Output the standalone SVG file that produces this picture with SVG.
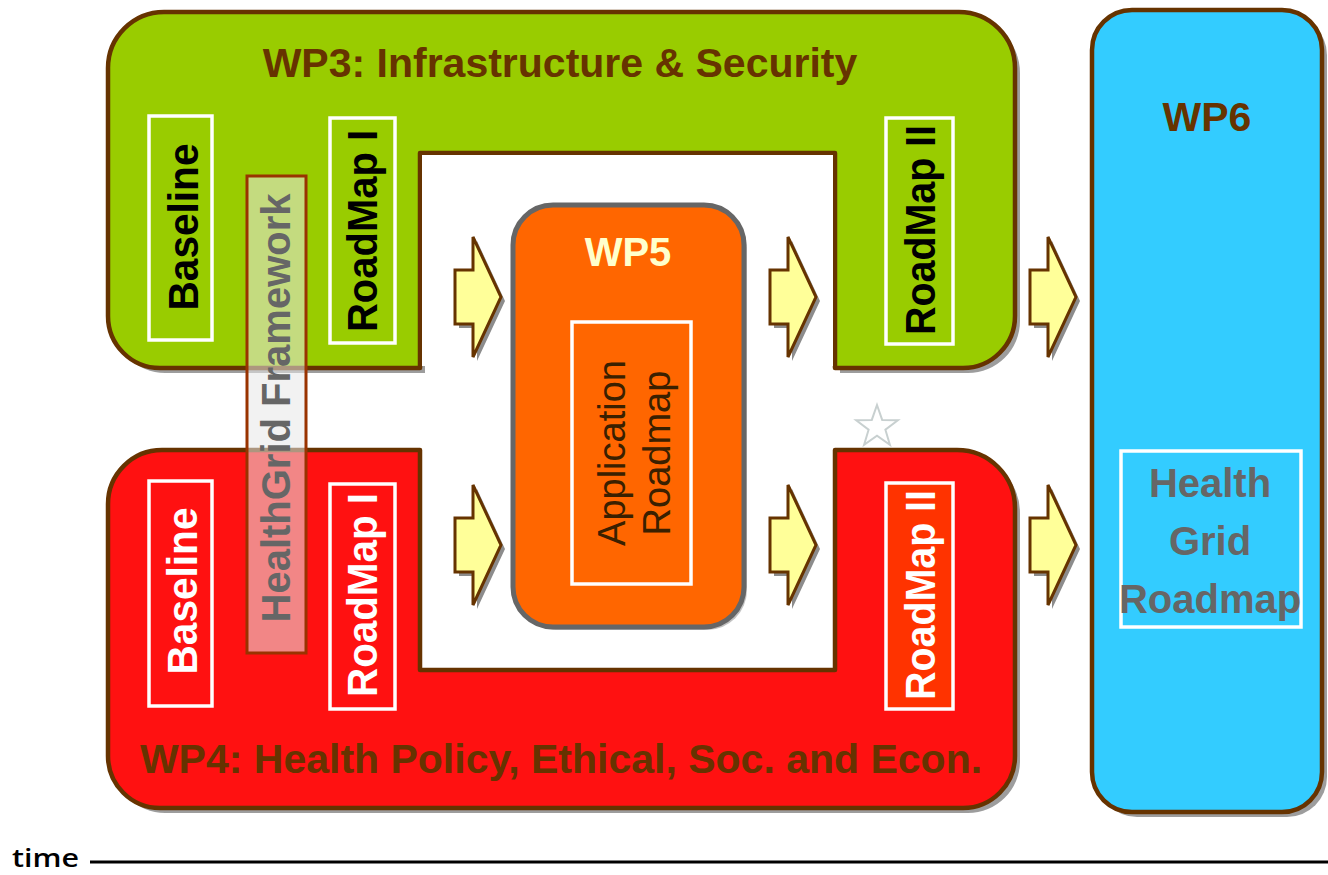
<svg xmlns="http://www.w3.org/2000/svg" xmlns:xlink="http://www.w3.org/1999/xlink" width="1328" height="875" viewBox="0 0 1328 875">
<style>
.wp{stroke:#663300;stroke-width:4.5;stroke-linejoin:round}
.shadow{fill:#8c8c8c;opacity:0.85}
.box{fill:none;stroke:#ffffff;stroke-width:3.5}
.lbl{font-family:"Liberation Sans",Arial,sans-serif;font-weight:bold;font-size:40px;text-anchor:middle}
.vl{font-family:"Liberation Sans",Arial,sans-serif;font-weight:bold;font-size:43px;text-anchor:middle}
.title{font-family:"Liberation Sans",Arial,sans-serif;font-weight:bold;font-size:41px;text-anchor:middle;fill:#663300}
.arrow{fill:#FFFF99;stroke:#663300;stroke-width:3;stroke-linejoin:miter}
.arrowsh{fill:#8c8c8c}
</style>
<defs>
<path id="arr" d="M0 -27 H18 V-60 L46 0 L18 60 V27 H0 Z"/>
<path id="star" d="M0 -22 L5.2 -7.1 L20.9 -6.8 L8.4 2.7 L12.9 17.8 L0 8.8 L-12.9 17.8 L-8.4 2.7 L-20.9 -6.8 L-5.2 -7.1 Z"/>
</defs>
<rect width="1328" height="875" fill="#ffffff"/>

<g id="wp6">
<rect x="1097" y="15" width="230" height="802" rx="40" class="shadow"/>
<rect x="1092" y="10" width="230" height="802" rx="40" fill="#33CCFF" class="wp"/>
<text x="1207" y="131" class="title">WP6</text>
<rect x="1121" y="451" width="180" height="176" class="box"/>
<text class="lbl" fill="#666666" x="1210" y="497">Health</text>
<text class="lbl" fill="#666666" x="1210" y="555">Grid</text>
<text class="lbl" fill="#666666" x="1210" y="613">Roadmap</text>
</g>

<g id="wp3">
<path class="shadow" transform="translate(5,5)" d="M420 368 H160 A52 52 0 0 1 108 316 V68 A56 56 0 0 1 164 12 H959 A56 56 0 0 1 1015 68 V316 A52 52 0 0 1 963 368 H835 V153 H420 Z"/>
<path fill="#99CC00" class="wp" d="M420 368 H160 A52 52 0 0 1 108 316 V68 A56 56 0 0 1 164 12 H959 A56 56 0 0 1 1015 68 V316 A52 52 0 0 1 963 368 H835 V153 H420 Z"/>
<text x="560" y="77" class="title">WP3: Infrastructure &amp; Security</text>
<rect x="149" y="116" width="63" height="224" class="box"/>
<text class="vl" fill="#000000" transform="translate(198,227) rotate(-90)" textLength="167" lengthAdjust="spacingAndGlyphs">Baseline</text>
<rect x="330" y="118" width="65" height="225" class="box"/>
<text class="vl" fill="#000000" transform="translate(377,231) rotate(-90)" textLength="202" lengthAdjust="spacingAndGlyphs">RoadMap I</text>
<rect x="886" y="118" width="67" height="226" class="box"/>
<text class="vl" fill="#000000" transform="translate(935,230) rotate(-90)" textLength="210" lengthAdjust="spacingAndGlyphs">RoadMap II</text>
</g>

<g id="wp4">
<path class="shadow" transform="translate(5,5)" d="M420 450 V670 H835 V450 H957 A58 58 0 0 1 1015 508 V756 A52 52 0 0 1 963 808 H160 A52 52 0 0 1 108 756 V504 A54 54 0 0 1 162 450 Z"/>
<rect x="422" y="452" width="411" height="216" fill="#ffffff"/>
<path fill="#FF1111" class="wp" d="M420 450 V670 H835 V450 H957 A58 58 0 0 1 1015 508 V756 A52 52 0 0 1 963 808 H160 A52 52 0 0 1 108 756 V504 A54 54 0 0 1 162 450 Z"/>
<text x="561" y="773" class="title">WP4: Health Policy, Ethical, Soc. and Econ.</text>
<rect x="149" y="481" width="63" height="225" class="box"/>
<text class="vl" fill="#ffffff" transform="translate(197,591) rotate(-90)" textLength="167" lengthAdjust="spacingAndGlyphs">Baseline</text>
<rect x="330" y="484" width="65" height="225" class="box"/>
<text class="vl" fill="#ffffff" transform="translate(377,595) rotate(-90)" textLength="204" lengthAdjust="spacingAndGlyphs">RoadMap I</text>
<rect x="886" y="483" width="67" height="226" class="box" style="fill:#FF3300"/>
<text class="vl" fill="#ffffff" transform="translate(935,595) rotate(-90)" textLength="210" lengthAdjust="spacingAndGlyphs">RoadMap II</text>
</g>

<rect x="422" y="155" width="411" height="211" fill="#ffffff"/>

<g id="healthgrid-framework">
<rect x="247" y="176" width="59" height="477" fill="#E8E8E8" fill-opacity="0.55" stroke="#993300" stroke-width="3"/>
<text class="lbl" fill="#666666" transform="translate(290,408) rotate(-90)">HealthGrid Framework</text>
</g>

<g id="wp5">
<rect x="516" y="208" width="231" height="422" rx="40" fill="#999999" opacity="0.6"/>
<rect x="513" y="205" width="231" height="422" rx="40" fill="#FF6600" stroke="#666666" stroke-width="5"/>
<text x="628" y="266" class="lbl" fill="#FFFFCC">WP5</text>
<rect x="572" y="322" width="119" height="262" class="box"/>
<text font-family="Liberation Sans, Arial, sans-serif" font-size="38" fill="#3a2000" text-anchor="middle" transform="translate(625,453) rotate(-90)">Application</text>
<text font-family="Liberation Sans, Arial, sans-serif" font-size="38" fill="#3a2000" text-anchor="middle" transform="translate(670,453) rotate(-90)">Roadmap</text>
</g>

<g id="connectors">
<use href="#arr" x="459" y="301" class="arrowsh"/>
<use href="#arr" x="455" y="297" class="arrow"/>
<use href="#arr" x="774" y="301" class="arrowsh"/>
<use href="#arr" x="770" y="297" class="arrow"/>
<use href="#arr" x="1034" y="301" class="arrowsh"/>
<use href="#arr" x="1030" y="297" class="arrow"/>
<use href="#arr" x="459" y="549" class="arrowsh"/>
<use href="#arr" x="455" y="545" class="arrow"/>
<use href="#arr" x="774" y="549" class="arrowsh"/>
<use href="#arr" x="770" y="545" class="arrow"/>
<use href="#arr" x="1034" y="549" class="arrowsh"/>
<use href="#arr" x="1030" y="545" class="arrow"/>
</g>

<g id="star-mark">
<use href="#star" x="877" y="427" fill="#ffffff" stroke="#c8d0d0" stroke-width="2"/>
</g>

<g id="timeline">
<text x="12" y="867" font-family="Open Sans, DejaVu Sans, sans-serif" font-weight="600" font-size="25" fill="#000000" textLength="67" lengthAdjust="spacingAndGlyphs">time</text>
<line x1="90" y1="862" x2="1328" y2="862" stroke="#000000" stroke-width="3"/>
</g>
</svg>
